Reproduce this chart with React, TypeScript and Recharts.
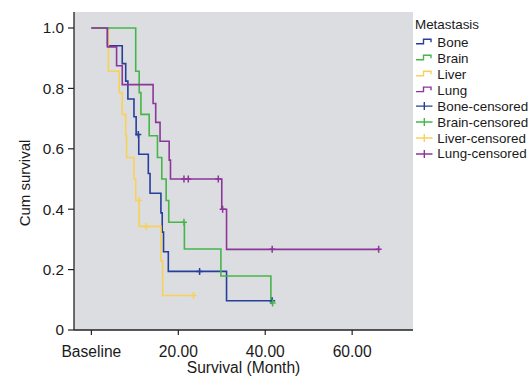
import React from 'react';
import { ComposedChart, Line, Scatter, XAxis, YAxis, CartesianGrid, Legend } from 'recharts';

const FONT = '"Liberation Sans", Arial, Helvetica, sans-serif';

const seriesNames = ['Bone', 'Brain', 'Liver', 'Lung'];
const seriesColors = ['#26409a', '#46b54a', '#f7d25a', '#8c3699'];
const legendTitle = 'Metastasis';

// Bone (n=17)
const boneTimes = [0, 3.7, 7.1, 7.9, 8.4, 9.8, 10.3, 10.9, 13.1, 13.5, 16.0, 16.3, 16.6, 17.7, 31.1, 41.6];
const boneSurv = [1, 0.941, 0.882, 0.824, 0.765, 0.706, 0.647, 0.582, 0.518, 0.453, 0.388, 0.324, 0.259, 0.194, 0.097, 0.097];
const boneCensTimes = [10.8, 24.9, 41.6];
const boneCensSurv = [0.647, 0.194, 0.097];

// Brain (n=14)
const brainTimes = [0, 10.2, 11.0, 11.4, 13.3, 15.2, 16.2, 17.2, 17.8, 21.4, 29.8, 41.3, 41.7];
const brainSurv = [1, 0.857, 0.786, 0.714, 0.643, 0.571, 0.5, 0.429, 0.357, 0.268, 0.179, 0.089, 0.089];
const brainCensTimes = [21.3, 41.7];
const brainCensSurv = [0.357, 0.089];

// Liver (n=14)
const liverTimes = [0, 3.9, 6.4, 7.1, 7.9, 8.1, 9.8, 10.2, 11.0, 16.0, 16.4, 23.5];
const liverSurv = [1, 0.857, 0.786, 0.714, 0.643, 0.571, 0.5, 0.429, 0.343, 0.229, 0.114, 0.114];
const liverCensTimes = [11.0, 12.6, 23.5];
const liverCensSurv = [0.429, 0.343, 0.114];

// Lung (n=16)
const lungTimes = [0, 3.7, 5.8, 7.1, 14.2, 14.8, 15.8, 17.9, 18.2, 30.0, 31.1, 66.1];
const lungSurv = [1, 0.9375, 0.875, 0.8125, 0.75, 0.6875, 0.625, 0.5625, 0.5, 0.4, 0.267, 0.267];
const lungCensTimes = [21.3, 22.3, 29.2, 30.2, 41.6, 66.1];
const lungCensSurv = [0.5, 0.5, 0.5, 0.4, 0.267, 0.267];

const xTicks = [0, 20, 40, 60];
const yTicks = [0, 0.2, 0.4, 0.6, 0.8, 1.0];
const xDomain = [-4, 74];
const yDomain = [0, 1.053];

const toPoints = (times: number[], surv: number[]) => times.map((t, i) => ({ t, s: surv[i] }));

const curves = [
  { name: 'Bone', color: seriesColors[0], data: toPoints(boneTimes, boneSurv), cens: toPoints(boneCensTimes, boneCensSurv) },
  { name: 'Liver', color: seriesColors[2], data: toPoints(liverTimes, liverSurv), cens: toPoints(liverCensTimes, liverCensSurv) },
  { name: 'Brain', color: seriesColors[1], data: toPoints(brainTimes, brainSurv), cens: toPoints(brainCensTimes, brainCensSurv) },
  { name: 'Lung', color: seriesColors[3], data: toPoints(lungTimes, lungSurv), cens: toPoints(lungCensTimes, lungCensSurv) },
];

const makePlus = (color: string) => (props: any) => {
  const { cx, cy } = props;
  if (cx == null || cy == null) return <g />;
  return (
    <path d={`M${cx - 3},${cy} H${cx + 3} M${cx},${cy - 3.5} V${cy + 3.5}`} stroke={color} strokeWidth={1.5} fill="none" />
  );
};

const LegendContent = () => {
  const itemY = (i: number) => 32.3 + i * 15.95;
  const items: { label: string; color: string; kind: 'step' | 'plus' }[] = [
    ...seriesNames.map((n, i) => ({ label: n, color: seriesColors[i], kind: 'step' as const })),
    ...seriesNames.map((n, i) => ({ label: `${n}-censored`, color: seriesColors[i], kind: 'plus' as const })),
  ];
  return (
    <svg width={118} height={160} style={{ display: 'block', fontFamily: FONT }}>
      <text x={1} y={14} fontSize={13.4} fill="#1a1a1a" dominantBaseline="central">{legendTitle}</text>
      {items.map((it, i) => {
        const y = itemY(i);
        return (
          <g key={it.label}>
            {it.kind === 'step' ? (
              <path d={`M2,${y + 1.5} H9.5 V${y - 3} H17 V${y}`} stroke={it.color} strokeWidth={1.4} fill="none" />
            ) : (
              <path d={`M2,${y} H18.5 M10.3,${y - 4} V${y + 4}`} stroke={it.color} strokeWidth={1.4} fill="none" />
            )}
            <text x={23.3} y={y} fontSize={13.4} fill="#1a1a1a" dominantBaseline="central">{it.label}</text>
          </g>
        );
      })}
    </svg>
  );
};

const YLabel = (props: any) => {
  const vb = props.viewBox || {};
  const cx = (vb.x ?? 0) + 24;
  const cy = (vb.y ?? 0) + (vb.height ?? 0) / 2 + 12;
  return (
    <text x={cx} y={cy} transform={`rotate(-90 ${cx} ${cy})`} textAnchor="middle" dominantBaseline="central"
      fontSize={15} fill="#1a1a1a" fontFamily={FONT}>Cum survival</text>
  );
};

export default function App() {
  return (
    <div style={{ position: 'absolute', left: 0, top: 0, width: 532, height: 382, background: '#fff', fontFamily: FONT }}>
      <ComposedChart width={532} height={382} margin={{ top: 12, right: 119, bottom: 0, left: 0 }}>
        <CartesianGrid fill="#dcdde0" fillOpacity={1} horizontal={false} vertical={false} stroke="none" />
        <XAxis
          xAxisId="main"
          type="number"
          dataKey="t"
          domain={xDomain}
          ticks={xTicks}
          allowDataOverflow
          height={52}
          tickSize={5}
          tickMargin={11}
          tickFormatter={(v: number) => (v === 0 ? 'Baseline' : v.toFixed(2))}
          tick={{ fontSize: 15.6, fill: '#1a1a1a', fontFamily: FONT }}
          axisLine={{ stroke: '#222', strokeWidth: 1.3 }}
          tickLine={{ stroke: '#222', strokeWidth: 1.2 }}
          label={{ value: 'Survival (Month)', position: 'insideBottom', offset: 9, fontSize: 15.6, fill: '#1a1a1a', fontFamily: FONT }}
        />
        <XAxis xAxisId="top" orientation="top" type="number" domain={xDomain} allowDataOverflow height={0}
          tick={false} tickLine={false} axisLine={{ stroke: '#333', strokeWidth: 1 }} />
        <YAxis
          yAxisId="main"
          type="number"
          domain={yDomain}
          ticks={yTicks}
          allowDataOverflow
          width={74}
          tickSize={6}
          tickMargin={4}
          tickFormatter={(v: number) => (v === 0 ? '0' : v.toFixed(1))}
          tick={{ fontSize: 15.3, fill: '#1a1a1a', fontFamily: FONT }}
          axisLine={{ stroke: '#222', strokeWidth: 1.3 }}
          tickLine={{ stroke: '#222', strokeWidth: 1.2 }}
          label={<YLabel />}
        />
        <YAxis yAxisId="right" orientation="right" type="number" domain={yDomain} allowDataOverflow width={0}
          tick={false} tickLine={false} axisLine={{ stroke: '#333', strokeWidth: 1 }} />
        {curves.map((c) => (
          <Line
            key={c.name}
            xAxisId="main"
            yAxisId="main"
            data={c.data}
            dataKey="s"
            type="stepAfter"
            stroke={c.color}
            strokeWidth={1.6}
            dot={false}
            activeDot={false}
            isAnimationActive={false}
            legendType="none"
          />
        ))}
        {curves.map((c) => (
          <Scatter
            key={c.name + '-c'}
            xAxisId="main"
            yAxisId="main"
            data={c.cens}
            dataKey="s"
            shape={makePlus(c.color)}
            isAnimationActive={false}
            legendType="none"
          />
        ))}
        <Legend
          layout="horizontal"
          verticalAlign="middle"
          align="center"
          content={<LegendContent />}
          wrapperStyle={{ left: 414, top: 10, width: 118, height: 160 }}
        />
      </ComposedChart>
    </div>
  );
}
